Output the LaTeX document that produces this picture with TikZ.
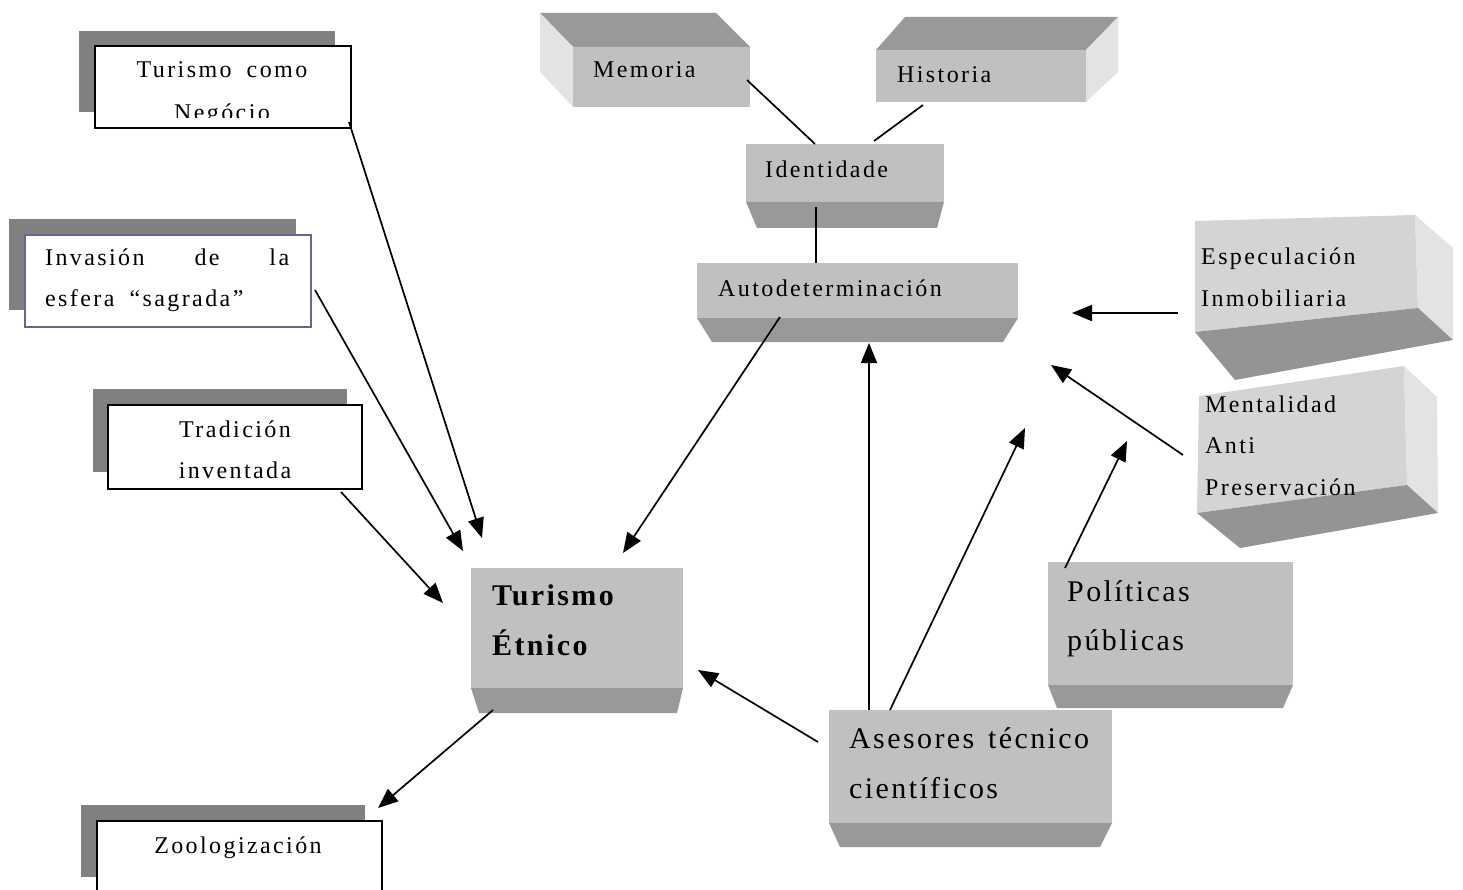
\documentclass[tikz,border=0pt]{standalone}
\usepackage{fontspec}
\usepackage{tikz}
\usetikzlibrary{arrows.meta}
\setmainfont{Liberation Serif}
\newfontfamily\cajafont[LetterSpace=10, WordSpace=1.8]{Liberation Serif}
\newfontfamily\grandefont[LetterSpace=8, WordSpace=1.4]{Liberation Serif}
\definecolor{frente}{HTML}{C0C0C0}
\definecolor{oscuro}{HTML}{999999}
\definecolor{lado}{HTML}{E3E3E3}
\definecolor{claro}{HTML}{D4D4D4}
\definecolor{sombra}{HTML}{808080}
\definecolor{lila}{HTML}{66668F}
\tikzset{
  txt/.style={anchor=base west, inner sep=0pt, font=\cajafont\fontsize{24}{28}\selectfont},
  txtc/.style={anchor=base, inner sep=0pt, font=\cajafont\fontsize{24}{28}\selectfont},
  txtg/.style={anchor=base west, inner sep=0pt, font=\grandefont\fontsize{30}{34}\selectfont},
  flecha/.style={line width=1.7pt, -{Triangle[length=20pt,width=16pt]}},
  linea/.style={line width=1.7pt},
}

\begin{document}
\begin{tikzpicture}[x=1pt, y=-1pt]
    \useasboundingbox (0,0) rectangle (1463,890);
    % Cajas con sombra
    \fill[sombra] (79,31) rectangle (335,112);
    \draw[line width=1.8pt, fill=white] (95,46) rectangle (351,128);
    \fill[sombra] (9,219) rectangle (296,310);
    \draw[line width=1.4pt, draw=lila, fill=white] (25,235) rectangle (311,327);
    \fill[sombra] (93,389) rectangle (347,472);
    \draw[line width=1.8pt, fill=white] (108,405) rectangle (362,489);
    \fill[sombra] (81,805) rectangle (365,877);
    \draw[line width=1.8pt, fill=white] (97,821) rectangle (382,900);
    \node[txtc] (negocio) at (222,78) {Turismo como};
    \begin{scope}
        \clip (97,48) rectangle (349,118);
        \node[txtc] (negocio2) at (222,121) {Negócio};
    \end{scope}
    \node[txt, text width=244pt] (invasion) at (45,266) {Invasión\hfill de\hfill la};
    \node[txt] (invasion2) at (45,307) {esfera “sagrada”};
    \node[txtc] (tradicion) at (235,437) {Tradición};
    \node[txtc] (tradicion2) at (235,478) {inventada};
    \node[txtc] (zoo) at (238,853) {Zoologización};
    % Memoria
    \fill[oscuro] (540,13) -- (716,13) -- (750,47) -- (573,47) -- cycle;
    \fill[lado] (540,13) -- (573,47) -- (573,107) -- (540,72) -- cycle;
    \fill[frente] (573,47) rectangle (750,107);
    \node[txt] (memoria) at (593,78) {Memoria};
    % Historia
    \fill[oscuro] (905,17) -- (1118,17) -- (1086,50) -- (876,50) -- cycle;
    \fill[lado] (1086,50) -- (1118,17) -- (1118,72) -- (1086,102) -- cycle;
    \fill[frente] (876,50) rectangle (1086,102);
    \node[txt] (historia) at (897,83) {Historia};
    % Identidade
    \fill[frente] (746,144) rectangle (944,202);
    \fill[oscuro] (746,202) -- (944,202) -- (937,228) -- (757,228) -- cycle;
    \node[txt] (identidade) at (765,178) {Identidade};
    % Autodeterminacion
    \fill[frente] (697,263) rectangle (1018,318);
    \fill[oscuro] (697,318) -- (1018,318) -- (1003,342) -- (712,342) -- cycle;
    \node[txt] (auto) at (718,297) {Autodeterminación};
    % Especulacion
    \fill[claro] (1195,221) -- (1415,215) -- (1418,308) -- (1195,332) -- cycle;
    \fill[lado] (1415,215) -- (1453,248) -- (1453,340) -- (1418,308) -- cycle;
    \fill[oscuro!105] (1195,332) -- (1418,308) -- (1453,340) -- (1235,380) -- cycle;
    \node[txt] (especulacion) at (1201,265) {Especulación};
    \node[txt] (especulacion2) at (1201,307) {Inmobiliaria};
    % Mentalidad
    \fill[claro] (1199,396) -- (1404,366) -- (1407,485) -- (1197,513) -- cycle;
    \fill[lado] (1404,366) -- (1437,397) -- (1438,513) -- (1407,485) -- cycle;
    \fill[oscuro!105] (1197,513) -- (1407,485) -- (1438,513) -- (1240,548) -- cycle;
    \node[txt] (mentalidad) at (1205,412) {Mentalidad};
    \node[txt] (mentalidad2) at (1205,453) {Anti};
    \node[txt] (mentalidad3) at (1205,495) {Preservación};
    % Turismo Etnico
    \fill[frente] (471,568) rectangle (683,688);
    \fill[oscuro] (471,688) -- (683,688) -- (677,713) -- (479,713) -- cycle;
    \node[txtg, font=\grandefont\fontsize{30}{34}\selectfont\bfseries] (etnico) at (492,605) {Turismo};
    \node[txtg, font=\grandefont\fontsize{30}{34}\selectfont\bfseries] (etnico2) at (492,655) {Étnico};
    % Politicas publicas
    \fill[frente] (1048,562) rectangle (1293,685);
    \fill[oscuro] (1048,685) -- (1293,685) -- (1283,708) -- (1057,708) -- cycle;
    \node[txtg] (politicas) at (1067,601) {Políticas};
    \node[txtg] (politicas2) at (1067,650) {públicas};
    % Asesores
    \fill[frente] (829,710) rectangle (1112,823);
    \fill[oscuro] (829,823) -- (1112,823) -- (1100,847) -- (840,847) -- cycle;
    \node[txtg] (asesores) at (849,748) {Asesores técnico};
    \node[txtg] (asesores2) at (849,798) {científicos};
    % Puntos de conexion
    \coordinate (negocio-out) at (349,122);
    \coordinate (invasion-out) at (315,290);
    \coordinate (tradicion-out) at (341,492);
    \coordinate (auto-out) at (780,317);
    \coordinate (etnico-in1) at (482,538);
    \coordinate (etnico-in2) at (463,551);
    \coordinate (etnico-in3) at (443,603);
    \coordinate (etnico-in4) at (623,553);
    \coordinate (etnico-in5) at (698,670);
    \coordinate (etnico-out) at (493,710);
    \coordinate (zoo-in) at (378,808);
    \coordinate (asesores-out1) at (818,742);
    \coordinate (asesores-out2) at (869,710);
    \coordinate (asesores-out3) at (890,710);
    \coordinate (auto-in) at (869,343);
    \coordinate (libre1) at (1025,428);
    \coordinate (politicas-out) at (1065,568);
    \coordinate (libre2) at (1127,441);
    \coordinate (mentalidad-out) at (1183,455);
    \coordinate (libre3) at (1051,365);
    \coordinate (especulacion-out) at (1178,313);
    \coordinate (libre4) at (1072,313);
    \coordinate (memoria-out) at (747,80);
    \coordinate (historia-out) at (923,105);
    \coordinate (ident-in1) at (815,144);
    \coordinate (ident-in2) at (874,141);
    \coordinate (ident-out) at (816,207);
    \coordinate (auto-top) at (816,263);
    % Lineas
    \draw[linea] (memoria-out) -- (ident-in1);
    \draw[linea] (historia-out) -- (ident-in2);
    \draw[linea] (ident-out) -- (auto-top);
    % Flechas
    \draw[flecha] (negocio-out) -- (etnico-in1);
    \draw[flecha] (invasion-out) -- (etnico-in2);
    \draw[flecha] (tradicion-out) -- (etnico-in3);
    \draw[flecha] (auto-out) -- (etnico-in4);
    \draw[flecha] (etnico-out) -- (zoo-in);
    \draw[flecha] (asesores-out1) -- (etnico-in5);
    \draw[flecha] (asesores-out2) -- (auto-in);
    \draw[flecha] (asesores-out3) -- (libre1);
    \draw[flecha] (politicas-out) -- (libre2);
    \draw[flecha] (mentalidad-out) -- (libre3);
    \draw[flecha] (especulacion-out) -- (libre4);
\end{tikzpicture}
\end{document}
